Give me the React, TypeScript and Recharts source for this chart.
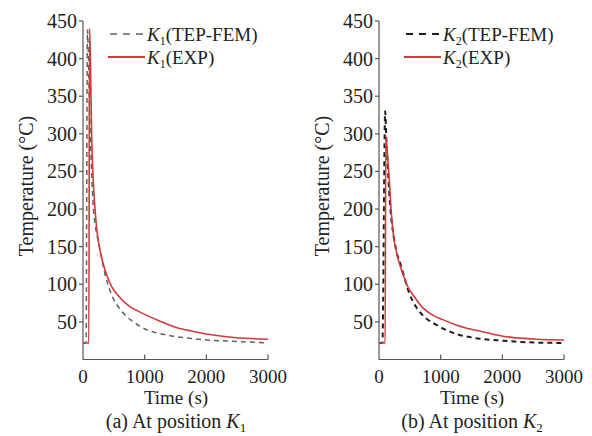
import { CartesianGrid, Line, LineChart, XAxis, YAxis } from "recharts"

const FONT = "'Liberation Serif', 'Times New Roman', serif"
const RED = "#d23a3c"

// time axis / temperature axis
const timeTicks = [0, 1000, 2000, 3000]
const tempTicks = [50, 100, 150, 200, 250, 300, 350, 400, 450]

// K1 - experiment
const k1ExpTime = [0, 95, 105, 120, 140, 165, 195, 225, 260, 300, 350, 400, 465, 550, 650, 750, 900, 1000, 1250, 1500, 1750, 2000, 2500, 3000]
const k1ExpTemp = [22, 22, 440, 400, 300, 240, 200, 172, 152, 136, 121, 109, 97, 87, 78, 71, 64, 60, 51, 43, 38, 34, 29, 27]
// K1 - TEP-FEM
const k1FemTime = [0, 50, 72, 88, 110, 140, 170, 200, 243, 276, 350, 420, 492, 600, 708, 820, 924, 1050, 1167, 1460, 1750, 2010, 2500, 3000]
const k1FemTemp = [22, 22, 438, 400, 320, 250, 200, 178, 159, 146, 116, 96, 81, 67, 57, 50, 44, 39, 36, 31, 28, 26, 24, 22]

// K2 - experiment
const k2ExpTime = [0, 100, 110, 140, 167, 195, 230, 260, 330, 400, 465, 550, 708, 850, 1032, 1250, 1410, 1572, 2010, 2545, 3000]
const k2ExpTemp = [22, 22, 298, 270, 239, 200, 168, 152, 128, 111, 97, 86, 69, 60, 53, 46, 42, 39, 31, 27, 26]
// K2 - TEP-FEM
const k2FemTime = [0, 55, 100, 120, 150, 180, 230, 280, 356, 491, 600, 708, 978, 1248, 1518, 2010, 2545, 3000]
const k2FemTemp = [22, 22, 330, 290, 245, 205, 168, 145, 125, 88, 70, 59, 44, 34, 29, 25, 22.5, 22]

const zip = (t: number[], v: number[]) => t.map((x, i) => ({ t: x, v: v[i] }))

function XTick({ x, y, payload }: any) {
  return (
    <g>
      {payload.value !== 0 && <line x1={x} y1={y} x2={x} y2={y - 5} stroke="#555" strokeWidth={1.2} />}
      <text x={x} y={y + 23} textAnchor="middle" fontSize={19} fontFamily={FONT} fill="#222">
        {payload.value}
      </text>
    </g>
  )
}

function YTick({ x, y, payload }: any) {
  return (
    <g>
      <line x1={x - 4} y1={y} x2={x} y2={y} stroke="#555" strokeWidth={1.2} />
      <text x={x - 6} y={y} dy="0.35em" textAnchor="end" fontSize={20} fontFamily={FONT} fill="#222">
        {payload.value}
      </text>
    </g>
  )
}

function Panel({
  idx,
  exp,
  fem,
  femColor,
  femWidth,
  caption,
}: {
  idx: string
  exp: { t: number; v: number }[]
  fem: { t: number; v: number }[]
  femColor: string
  femWidth: number
  caption: string
}) {
  const sub = (size: number) => (
    <>
      <tspan fontStyle="italic">K</tspan>
      <tspan fontSize={size} dy={4}>
        {idx}
      </tspan>
    </>
  )
  return (
    <div style={{ position: "relative", width: 296, height: 436 }}>
      <LineChart width={296} height={436} margin={{ top: 21, right: 28, left: 23, bottom: 46.5 }}>
        <CartesianGrid stroke="none" />
        <XAxis
          dataKey="t"
          type="number"
          domain={[0, 3000]}
          ticks={timeTicks}
          allowDataOverflow
          tickLine={false}
          tickSize={0}
          tickMargin={0}
          stroke="#555"
          strokeWidth={1.2}
          tick={<XTick />}
        />
        <YAxis
          type="number"
          domain={[0, 450]}
          ticks={tempTicks}
          width={60}
          tickLine={false}
          tickSize={0}
          tickMargin={0}
          stroke="#555"
          strokeWidth={1.2}
          tick={<YTick />}
        />
        <Line data={fem} dataKey="v" type="monotone" stroke={femColor} strokeWidth={femWidth} strokeDasharray="5 4" dot={false} isAnimationActive={false} />
        <Line data={exp} dataKey="v" type="monotone" stroke={RED} strokeWidth={1.6} dot={false} isAnimationActive={false} />
      </LineChart>
      <svg width={296} height={436} style={{ position: "absolute", left: 0, top: 0, pointerEvents: "none" }} fontFamily={FONT}>
        <line x1={110} y1={34} x2={144} y2={34} stroke={femColor} strokeWidth={femWidth} strokeDasharray="7 6" />
        <text x={147} y={41} fontSize={19} fill="#222">
          {sub(12)}
          <tspan dy={-4}>(TEP-FEM)</tspan>
        </text>
        <line x1={108} y1={57} x2={145} y2={57} stroke={RED} strokeWidth={2} />
        <text x={147} y={64} fontSize={19} fill="#222">
          {sub(12)}
          <tspan dy={-4}>(EXP)</tspan>
        </text>
        <text x={33} y={186} fontSize={20} fill="#222" textAnchor="middle" transform="rotate(-90 33 186)">
          Temperature (°C)
        </text>
        <text x={176} y={404} fontSize={19} fill="#222" textAnchor="middle">
          Time (s)
        </text>
        <text x={176} y={428} fontSize={20} fill="#222" textAnchor="middle">
          {caption} {sub(13)}
        </text>
      </svg>
    </div>
  )
}

export default function App() {
  return (
    <div style={{ position: "absolute", left: 0, top: 0, width: 592, height: 436, display: "flex", background: "#fff" }}>
      <Panel idx="1" exp={zip(k1ExpTime, k1ExpTemp)} fem={zip(k1FemTime, k1FemTemp)} femColor="#5c5f6c" femWidth={1.5} caption="(a) At position" />
      <Panel idx="2" exp={zip(k2ExpTime, k2ExpTemp)} fem={zip(k2FemTime, k2FemTemp)} femColor="#1e1e1e" femWidth={2} caption="(b) At position" />
    </div>
  )
}
